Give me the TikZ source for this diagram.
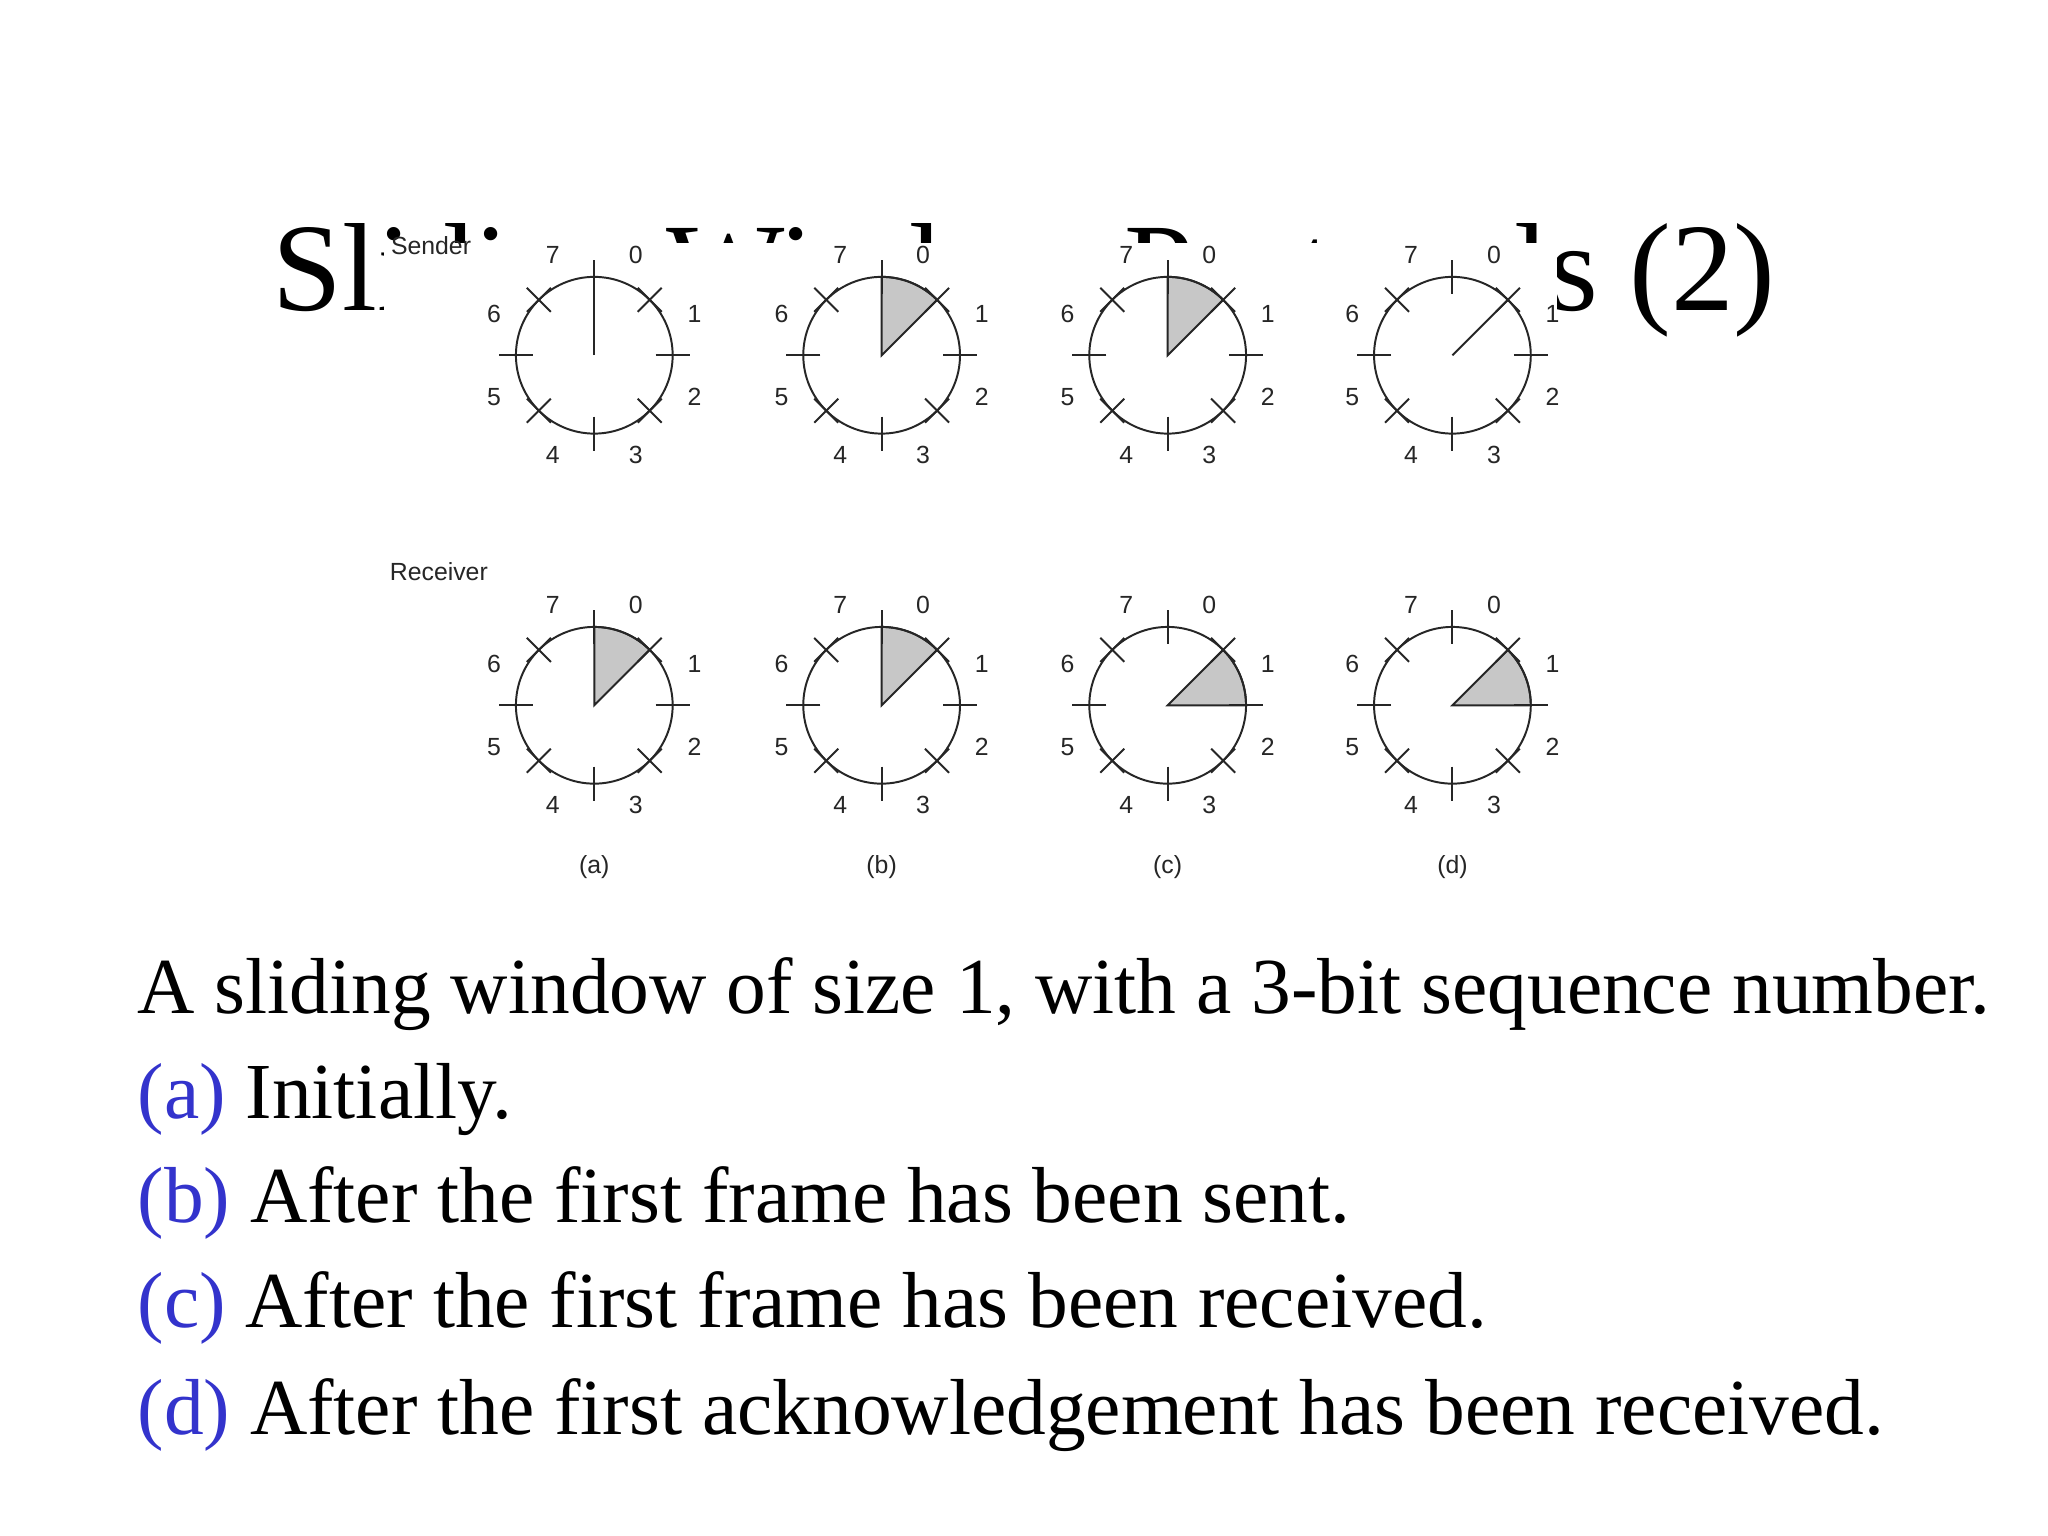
\documentclass[tikz,border=0pt]{standalone}
\usepackage{fontspec}
\setmainfont{Liberation Serif}
\setsansfont{Liberation Sans}
\tikzset{
  clk/.style={line width=0.75pt, draw=black!85},
  wedge/.style={clk, fill=black!22},
  num/.style={font=\fontsize{9.5}{10}\selectfont\sffamily, text=black!85, inner sep=0pt},
  lbl/.style={font=\fontsize{9.5}{10}\selectfont\sffamily, text=black!85, inner sep=0pt},
  body/.style={font=\fontsize{30.4}{31}\selectfont, anchor=base west, inner sep=0pt},
}
\definecolor{itemblue}{RGB}{51,51,204}
\newcommand\myclock[3]{%
\begin{scope}[shift={(#1,#2)}]
  #3
  \draw[clk] (0,0) circle (60);
  \foreach \a in {0,90,180,270} \draw[clk] (\a:47) -- (\a:73);
  \foreach \a in {45,135,225,315} {
    \draw[clk] (\a:47) -- (\a:73);
    \draw[clk] ([shift={(\a:60)}]\a+90:13) -- ([shift={(\a:60)}]\a-90:13);
  }
  \foreach \k in {0,...,7} \node[num] at ({67.5-45*\k}:83) {\k};
\end{scope}}
\begin{document}
\begin{tikzpicture}[x=0.5pt,y=0.5pt]
\useasboundingbox (0,0) rectangle (1568,1176);
\fill[white] (0,0) rectangle (1568,1176);
\node[font=\fontsize{48}{48}\selectfont, anchor=base, inner sep=0pt] (title) at (784,938) {Sliding Window Protocols (2)};
\fill[white] (294,486) rectangle (1192,990);
% sender row
\myclock{455}{904}{\draw[clk] (0,0) -- (90:60);}
\myclock{675}{904}{\filldraw[wedge] (0,0) -- (90:60) arc[start angle=90,end angle=45,radius=60] -- cycle;}
\myclock{894}{904}{\filldraw[wedge] (0,0) -- (90:60) arc[start angle=90,end angle=45,radius=60] -- cycle;}
\myclock{1112}{904}{\draw[clk] (0,0) -- (45:60);}
% receiver row
\myclock{455}{636}{\filldraw[wedge] (0,0) -- (90:60) arc[start angle=90,end angle=45,radius=60] -- cycle;}
\myclock{675}{636}{\filldraw[wedge] (0,0) -- (90:60) arc[start angle=90,end angle=45,radius=60] -- cycle;}
\myclock{894}{636}{\filldraw[wedge] (0,0) -- (45:60) arc[start angle=45,end angle=0,radius=60] -- cycle;}
\myclock{1112}{636}{\filldraw[wedge] (0,0) -- (45:60) arc[start angle=45,end angle=0,radius=60] -- cycle;}
\node[lbl] (snd) at (330,988) {Sender};
\node[lbl] (rcv) at (336,738) {Receiver};
\node[lbl] (la) at (455,512) {(a)};
\node[lbl] (lb) at (675,512) {(b)};
\node[lbl] (lc) at (894,512) {(c)};
\node[lbl] (ld) at (1112,512) {(d)};
\node[body] (t0) at (105,400) {A sliding window of size 1, with a 3-bit sequence number.};
\node[body] (t1) at (105,320) {\textcolor{itemblue}{(a)} Initially.};
\node[body] (t2) at (105,240) {\textcolor{itemblue}{(b)} After the first frame has been sent.};
\node[body] (t3) at (105,160) {\textcolor{itemblue}{(c)} After the first frame has been received.};
\node[body] (t4) at (105,78) {\textcolor{itemblue}{(d)} After the first acknowledgement has been received.};
\end{tikzpicture}
\end{document}
